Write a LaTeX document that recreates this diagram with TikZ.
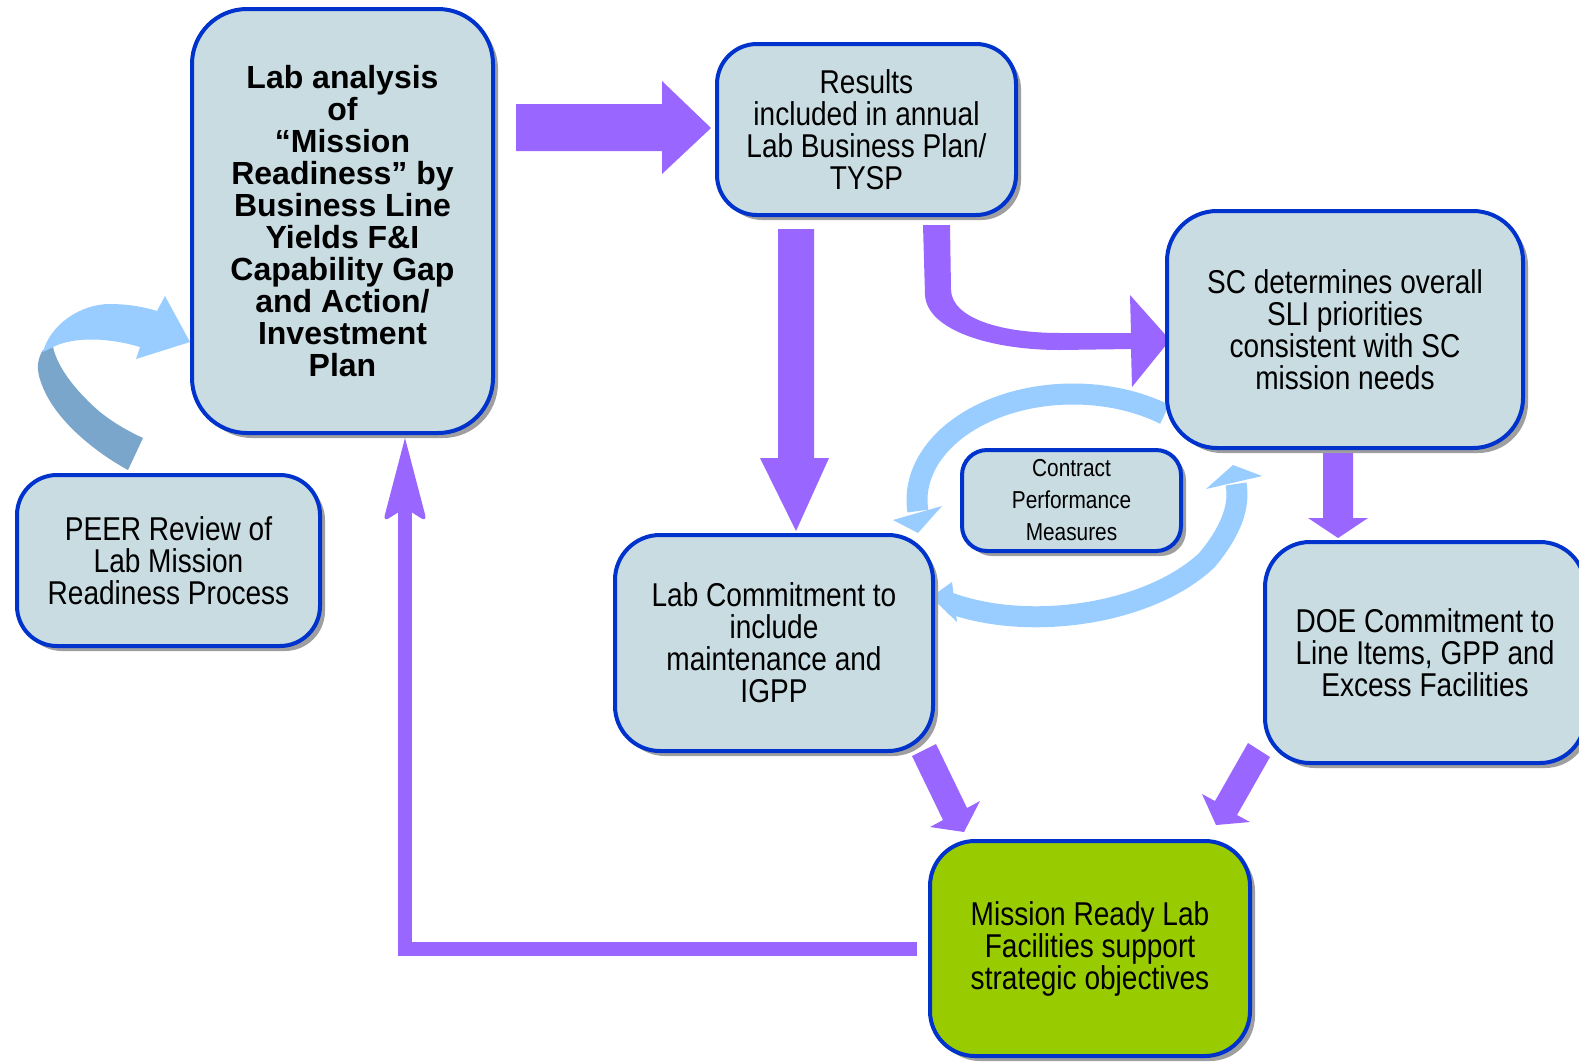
\documentclass[tikz,border=0pt]{standalone}
\usepackage{fontspec}
\setmainfont{Liberation Sans}
\newfontfamily\nar[FakeStretch=0.85]{Liberation Sans}
\usetikzlibrary{shadows}
\definecolor{boxfill}{RGB}{201,220,226}
\definecolor{boxline}{RGB}{0,51,204}
\definecolor{arrowpurple}{RGB}{153,102,255}
\definecolor{lightarrow}{RGB}{153,204,255}
\definecolor{darkarrow}{RGB}{122,166,204}
\definecolor{greenfill}{RGB}{153,204,0}
\tikzset{
  procbox/.style={draw=boxline, line width=4pt, fill=boxfill, inner sep=0pt,
    align=center, text=black, font=\nar\fontsize{33}{32}\selectfont,
    drop shadow={shadow xshift=5pt, shadow yshift=-5pt, fill=gray!75, opacity=1}},
  blockarrow/.style={fill=arrowpurple},
  loopline/.style={draw=lightarrow, line width=21pt},
  loophead/.style={fill=lightarrow},
}
\begin{document}
\begin{tikzpicture}[x=1pt,y=-1pt]
\useasboundingbox (0,0) rectangle (1579,1061);
\fill[white] (0,0) rectangle (1579,1061);

% ---------- connectors (drawn first, boxes overlay their ends) ----------
% Lab analysis -> Results
\fill[blockarrow] (516,104) -- (662,104) -- (662,81) -- (711,128) -- (662,174) -- (662,151) -- (516,151) -- cycle;
% Results -> Lab Commitment
\fill[blockarrow] (778,229) -- (814,229) -- (814,458) -- (829,458) -- (796,531) -- (760,458) -- (778,458) -- cycle;
% Results -> SC (bent)
\fill[blockarrow] (923,225) -- (925,295) .. controls (927,330) and (990,350) .. (1060,350) -- (1131,349)
  -- (1132,387) -- (1170,340) -- (1130,295) -- (1131,333) -- (1060,333)
  .. controls (1000,333) and (952,318) .. (951,290) -- (950,225) -- cycle;
% SC -> DOE
\fill[blockarrow] (1323,450) -- (1353,450) -- (1353,518) -- (1368,518) -- (1338,538) -- (1308,518) -- (1323,518) -- cycle;
% Lab Commitment -> Mission Ready
\fill[blockarrow] (912,756) -- (936,744) -- (967,808) -- (980,801) -- (964,832) -- (930,827) -- (943,820) -- cycle;
% DOE -> Mission Ready
\fill[blockarrow] (1248,743) -- (1270,757) -- (1237,815) -- (1250,822) -- (1216,825) -- (1202,794) -- (1215,801) -- cycle;
% Mission Ready -> Lab analysis (feedback)
\draw[arrowpurple, line width=14pt] (917,949) -- (405,949) -- (405,500);
\fill[arrowpurple] (405,438) [rounded corners=7pt] -- (427,522) -- (405,508) -- (383,522) [sharp corners] -- cycle;

% contract performance loop
\draw[loopline] plot[domain=-54:-186, samples=60, smooth] ({1073+156*cos(\x)},{500+106*sin(\x)});
\fill[loophead] (893,520) -- (942,506) -- (918,533) -- cycle;
\draw[loopline] (950,603) .. controls (1030,632) and (1150,614) .. (1207,560)
   .. controls (1232,530) and (1240,505) .. (1236,484);
\fill[loophead] (952,582) -- (957,622) -- (931,597) -- cycle;
\fill[loophead] (1206,489) -- (1262,476) -- (1233,465) -- cycle;

% PEER review curved arrow
\fill[darkarrow] (128,470) .. controls (95,452) and (55,420) .. (42,385)
  .. controls (35,368) and (38,358) .. (43,350) -- (53,347)
  .. controls (58,370) and (80,395) .. (100,412)
  .. controls (115,424) and (130,432) .. (143,438) -- cycle;
\fill[lightarrow] (43,352) .. controls (50,325) and (80,304) .. (110,304)
  .. controls (130,304) and (148,308) .. (157,311) -- (165,296) -- (190,342) -- (136,359) -- (140,347)
  .. controls (110,338) and (75,336) .. (53,347) -- cycle;

% ---------- boxes ----------
\node[procbox, minimum width=301pt, minimum height=424pt, rounded corners=55pt,
      font=\bfseries\fontsize{32}{32}\selectfont] (laba) at (342.5,221)
  {Lab analysis\\of\\“Mission\\Readiness” by\\Business Line\\Yields F\&I\\Capability Gap\\and Action/\\Investment\\Plan};
\node[procbox, minimum width=299pt, minimum height=171pt, rounded corners=40pt] (results) at (866.5,129.5)
  {Results\\included in annual\\Lab Business Plan/\\TYSP};
\node[procbox, minimum width=356pt, minimum height=237pt, rounded corners=50pt] (sc) at (1345,329.5)
  {SC determines overall\\SLI priorities\\consistent with SC\\mission needs};
\node[procbox, minimum width=219pt, minimum height=101pt, rounded corners=25pt,
      font=\nar\fontsize{24.5}{32}\selectfont] (contract) at (1071.5,500.5)
  {Contract\\Performance\\Measures};
\node[procbox, minimum width=318pt, minimum height=216pt, rounded corners=45pt] (labc) at (774,643)
  {Lab Commitment to\\include\\maintenance and\\IGPP};
\node[procbox, minimum width=320pt, minimum height=221pt, rounded corners=45pt] (doe) at (1425,652.5)
  {DOE Commitment to\\Line Items, GPP and\\Excess Facilities};
\node[procbox, minimum width=303pt, minimum height=171pt, rounded corners=40pt] (peer) at (168.5,560.5)
  {PEER Review of\\Lab Mission\\Readiness Process};
\node[procbox, fill=greenfill, minimum width=320pt, minimum height=215pt, rounded corners=45pt] (mission) at (1090,948.5)
  {Mission Ready Lab\\Facilities support\\strategic objectives};
\end{tikzpicture}
\end{document}
